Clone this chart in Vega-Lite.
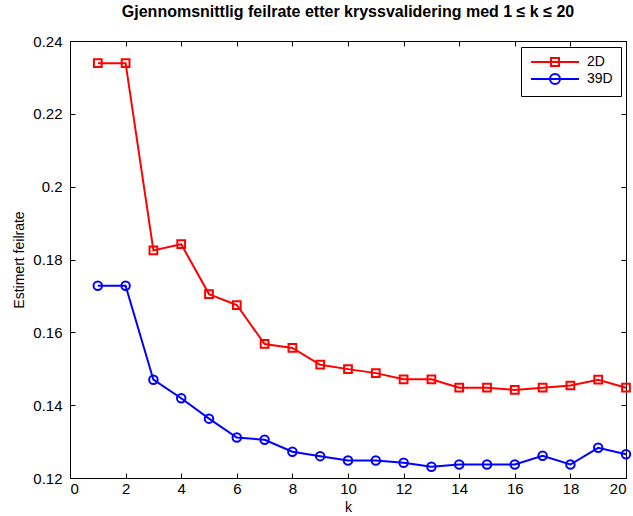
{
  "$schema": "https://vega.github.io/schema/vega-lite/v6.json",
  "width": 556,
  "height": 437,
  "autosize": {"type": "none"},
  "padding": {"left": 70, "top": 41, "right": 7, "bottom": 38},
  "background": "white",
  "config": {
    "font": "Liberation Sans",
    "view": {"stroke": "black", "strokeWidth": 1},
    "axis": {
      "domain": false,
      "grid": false,
      "tickColor": "black",
      "tickSize": -5,
      "tickWidth": 1,
      "labelFont": "Liberation Sans",
      "labelFontSize": 15,
      "labelColor": "black",
      "titleFont": "Liberation Sans",
      "titleFontSize": 14,
      "titleFontWeight": "normal",
      "titleColor": "black"
    }
  },
  "title": {
    "text": "Gjennomsnittlig feilrate etter kryssvalidering med 1 ≤ k ≤ 20",
    "font": "Liberation Sans",
    "fontSize": 16,
    "fontWeight": "bold",
    "color": "black",
    "anchor": "middle",
    "offset": 14
  },
  "data": {
    "values": [
      {"k": 1, "series": "2D", "rate": 0.2339},
      {"k": 2, "series": "2D", "rate": 0.2339},
      {"k": 3, "series": "2D", "rate": 0.1825},
      {"k": 4, "series": "2D", "rate": 0.1842},
      {"k": 5, "series": "2D", "rate": 0.1705},
      {"k": 6, "series": "2D", "rate": 0.1675},
      {"k": 7, "series": "2D", "rate": 0.1568},
      {"k": 8, "series": "2D", "rate": 0.1557},
      {"k": 9, "series": "2D", "rate": 0.1511},
      {"k": 10, "series": "2D", "rate": 0.1499},
      {"k": 11, "series": "2D", "rate": 0.1488},
      {"k": 12, "series": "2D", "rate": 0.1471},
      {"k": 13, "series": "2D", "rate": 0.1471},
      {"k": 14, "series": "2D", "rate": 0.1448},
      {"k": 15, "series": "2D", "rate": 0.1448},
      {"k": 16, "series": "2D", "rate": 0.1442},
      {"k": 17, "series": "2D", "rate": 0.1448},
      {"k": 18, "series": "2D", "rate": 0.1454},
      {"k": 19, "series": "2D", "rate": 0.1470},
      {"k": 20, "series": "2D", "rate": 0.1448},
      {"k": 1, "series": "39D", "rate": 0.1728},
      {"k": 2, "series": "39D", "rate": 0.1728},
      {"k": 3, "series": "39D", "rate": 0.1470},
      {"k": 4, "series": "39D", "rate": 0.1419},
      {"k": 5, "series": "39D", "rate": 0.1363},
      {"k": 6, "series": "39D", "rate": 0.1311},
      {"k": 7, "series": "39D", "rate": 0.1305},
      {"k": 8, "series": "39D", "rate": 0.1272},
      {"k": 9, "series": "39D", "rate": 0.1260},
      {"k": 10, "series": "39D", "rate": 0.1248},
      {"k": 11, "series": "39D", "rate": 0.1248},
      {"k": 12, "series": "39D", "rate": 0.1242},
      {"k": 13, "series": "39D", "rate": 0.1231},
      {"k": 14, "series": "39D", "rate": 0.1237},
      {"k": 15, "series": "39D", "rate": 0.1237},
      {"k": 16, "series": "39D", "rate": 0.1237},
      {"k": 17, "series": "39D", "rate": 0.1261},
      {"k": 18, "series": "39D", "rate": 0.1237},
      {"k": 19, "series": "39D", "rate": 0.1283},
      {"k": 20, "series": "39D", "rate": 0.1265}
    ]
  },
  "layer": [
    {
      "mark": {"type": "line", "strokeWidth": 2, "clip": false},
      "encoding": {
        "x": {
          "field": "k", "type": "quantitative",
          "scale": {"domain": [0, 20], "nice": false, "zero": false},
          "axis": {"orient": "bottom", "title": "k", "values": [0, 2, 4, 6, 8, 10, 12, 14, 16, 18, 20], "labelPadding": 8, "titlePadding": 4}
        },
        "y": {
          "field": "rate", "type": "quantitative",
          "scale": {"domain": [0.12, 0.24], "nice": false, "zero": false},
          "axis": {"orient": "left", "title": "Estimert feilrate", "values": [0.12, 0.14, 0.16, 0.18, 0.2, 0.22, 0.24], "format": "~f", "labelPadding": 13, "titlePadding": 6}
        },
        "color": {
          "field": "series", "type": "nominal",
          "scale": {"domain": ["2D", "39D"], "range": ["#ff0000", "#0000ff"]},
          "legend": {
            "title": null,
            "orient": "none",
            "legendX": 451,
            "legendY": 6,
            "strokeColor": "black",
            "fillColor": "white",
            "padding": 8,
            "rowPadding": 0,
            "symbolSize": 100,
            "symbolStrokeWidth": 2,
            "symbolFillColor": "transparent",
            "labelOffset": 44,
            "labelFont": "Liberation Sans",
            "labelFontSize": 14,
            "labelColor": "black",
            "encode": {
              "symbols": {
                "enter": {
                  "shape": {"signal": "datum.value === '2D' ? 'M-1,0H8.6M3,-0.8H4.6V0.8H3Z' : 'M-1,0H8.6M2.8,0A1,1 0 1,1 4.8,0A1,1 0 1,1 2.8,0Z'"},
                  "fill": {"value": "transparent"}
                },
                "update": {
                  "shape": {"signal": "datum.value === '2D' ? 'M-1,0H8.6M3,-0.8H4.6V0.8H3Z' : 'M-1,0H8.6M2.8,0A1,1 0 1,1 4.8,0A1,1 0 1,1 2.8,0Z'"},
                  "fill": {"value": "transparent"}
                }
              }
            }
          }
        }
      }
    },
    {
      "transform": [{"filter": "datum.series === '2D'"}],
      "mark": {"type": "point", "shape": "square", "size": 60, "filled": false, "strokeWidth": 2, "clip": false, "opacity": 1},
      "encoding": {
        "x": {"field": "k", "type": "quantitative", "axis": null},
        "y": {"field": "rate", "type": "quantitative", "axis": null},
        "color": {"field": "series", "type": "nominal"}
      }
    },
    {
      "transform": [{"filter": "datum.series === '39D'"}],
      "mark": {"type": "point", "shape": "circle", "size": 72, "filled": false, "strokeWidth": 2, "clip": false, "opacity": 1},
      "encoding": {
        "x": {
          "field": "k", "type": "quantitative",
          "axis": {"orient": "top", "title": null, "labels": false, "values": [0, 2, 4, 6, 8, 10, 12, 14, 16, 18, 20]}
        },
        "y": {
          "field": "rate", "type": "quantitative",
          "axis": {"orient": "right", "title": null, "labels": false, "values": [0.12, 0.14, 0.16, 0.18, 0.2, 0.22, 0.24]}
        },
        "color": {"field": "series", "type": "nominal"}
      }
    }
  ],
  "resolve": {"axis": {"x": "independent", "y": "independent"}}
}
